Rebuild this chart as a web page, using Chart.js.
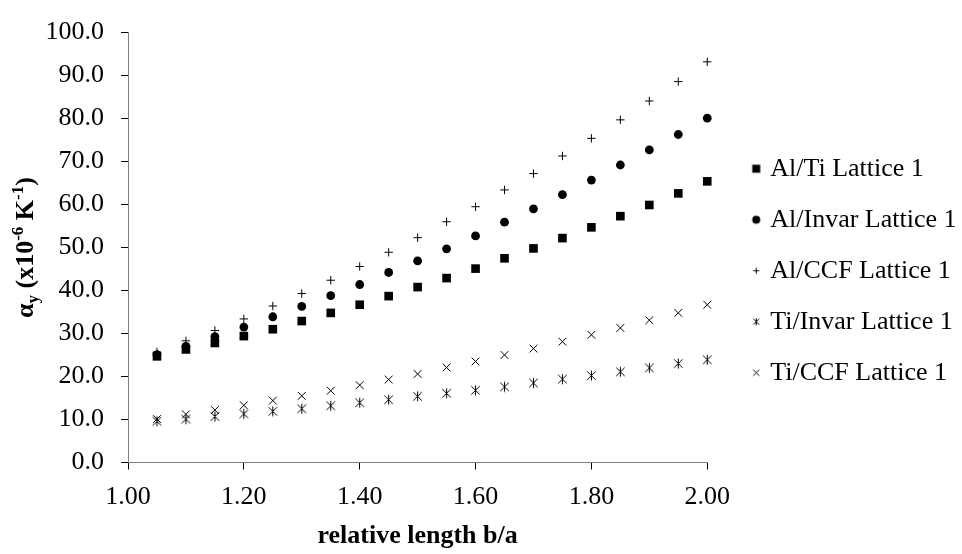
<!DOCTYPE html>
<html lang="en">
<head>
<meta charset="UTF-8">
<title>Lattice CTE vs relative length</title>
<script src="https://cdn.jsdelivr.net/npm/chart.js"></script>
<style>
  html, body { margin: 0; padding: 0; background: #fff; }
  #wrap { width: 962px; height: 554px; }
</style>
</head>
<body>
<div id="wrap"><canvas id="chart" width="962" height="554"></canvas></div>
<script>
// relative length b/a
const ratios = [1.05, 1.10, 1.15, 1.20, 1.25, 1.30, 1.35, 1.40, 1.45, 1.50,
                1.55, 1.60, 1.65, 1.70, 1.75, 1.80, 1.85, 1.90, 1.95, 2.00];

// alpha_y (x10^-6 K^-1)
const alTi    = [24.7, 26.3, 27.8, 29.4, 31.0, 32.9, 34.8, 36.7, 38.7, 40.8,
                 42.9, 45.1, 47.5, 49.8, 52.2, 54.7, 57.3, 59.9, 62.6, 65.4];
const alInvar = [25.1, 27.0, 29.3, 31.5, 33.9, 36.3, 38.8, 41.4, 44.2, 46.9,
                 49.7, 52.7, 55.9, 59.0, 62.3, 65.7, 69.2, 72.7, 76.3, 80.1];
const alCCF   = [25.7, 28.3, 30.7, 33.4, 36.4, 39.3, 42.4, 45.6, 48.9, 52.3,
                 56.0, 59.5, 63.4, 67.2, 71.3, 75.4, 79.7, 84.1, 88.6, 93.2];
const tiInvar = [9.6, 10.1, 10.7, 11.3, 11.9, 12.5, 13.2, 13.9, 14.6, 15.4,
                 16.1, 16.8, 17.6, 18.5, 19.4, 20.2, 21.1, 22.0, 23.0, 23.9];
const tiCCF   = [10.1, 11.2, 12.2, 13.3, 14.4, 15.5, 16.7, 18.0, 19.3, 20.6,
                 22.1, 23.5, 25.0, 26.5, 28.1, 29.7, 31.3, 33.1, 34.8, 36.7];

const seriesNames = ['Al/Ti Lattice 1', 'Al/Invar Lattice 1', 'Al/CCF Lattice 1',
                     'Ti/Invar Lattice 1', 'Ti/CCF Lattice 1'];
const xTitle = 'relative length b/a';
// y title pieces: text + 0 normal / 1 subscript / -1 superscript
const yTitleParts = [['α', 0], ['y', 1], [' (x10', 0], ['-6', -1], [' K', 0], ['-1', -1], [')', 0]];

const FONT = '"Liberation Serif", "Times New Roman", serif';
Chart.defaults.font.family = FONT;
Chart.defaults.font.size = 26;
Chart.defaults.color = '#000';

// little marker images
function makeIcon(kind, s) {
  const c = document.createElement('canvas');
  const n = 2 * Math.ceil(s / 2) + 3;
  c.width = c.height = n;
  const g = c.getContext('2d');
  const m = n / 2, h = s / 2;
  g.fillStyle = g.strokeStyle = '#000';
  g.lineWidth = 1;
  g.beginPath();
  if (kind === 'rect') {
    g.fillRect(m - h, m - h, s, s);
  } else if (kind === 'circle') {
    g.arc(m, m, h, 0, Math.PI * 2);
    g.fill();
  } else {
    if (kind === 'plus' || kind === 'star') { g.moveTo(m, m - h); g.lineTo(m, m + h); }
    if (kind === 'plus') { g.moveTo(m - h, m); g.lineTo(m + h, m); }
    if (kind === 'x' || kind === 'star') {
      const d = kind === 'star' ? h * 0.85 : h;
      g.moveTo(m - d, m - d); g.lineTo(m + d, m + d);
      g.moveTo(m + d, m - d); g.lineTo(m - d, m + d);
    }
    g.stroke();
  }
  return c;
}

const starMarker = makeIcon('star', 10);
const legendIcons = [makeIcon('rect', 8), makeIcon('circle', 8), makeIcon('plus', 6),
                     makeIcon('star', 7), makeIcon('x', 6)];

function pts(ys) { return ratios.map((x, i) => ({ x: x, y: ys[i] })); }

const LEGEND_DX = 23, LEGEND_DY = -15;

const extras = {
  id: 'extras',
  afterLayout(chart) {
    const lg = chart.legend;
    lg.left += LEGEND_DX; lg.right += LEGEND_DX;
    lg.top += LEGEND_DY; lg.bottom += LEGEND_DY;
  },
  afterDraw(chart) {
    const ctx = chart.ctx;
    const area = chart.chartArea;
    const big = 'bold 26px ' + FONT, small = 'bold 17px ' + FONT;
    ctx.save();
    let total = 0;
    yTitleParts.forEach(p => { ctx.font = p[1] ? small : big; total += ctx.measureText(p[0]).width; });
    ctx.translate(33, (area.top + area.bottom) / 2);
    ctx.rotate(-Math.PI / 2);
    ctx.fillStyle = '#000';
    ctx.textBaseline = 'alphabetic';
    let x = -total / 2;
    yTitleParts.forEach(p => {
      ctx.font = p[1] ? small : big;
      const dy = p[1] === 1 ? 5 : (p[1] === -1 ? -10 : 0);
      ctx.fillText(p[0], x, dy);
      x += ctx.measureText(p[0]).width;
    });
    ctx.restore();
  }
};

const common = { backgroundColor: '#000', borderColor: '#000', clip: false };

new Chart(document.getElementById('chart'), {
  type: 'scatter',
  data: {
    datasets: [
      Object.assign({ label: seriesNames[0], data: pts(alTi), pointStyle: 'rect',
                      pointRadius: 6.1, borderWidth: 0 }, common),
      Object.assign({ label: seriesNames[1], data: pts(alInvar), pointStyle: 'circle',
                      pointRadius: 4.4, borderWidth: 0 }, common),
      Object.assign({ label: seriesNames[2], data: pts(alCCF), pointStyle: 'cross',
                      pointRadius: 4.2, borderWidth: 1 }, common),
      Object.assign({ label: seriesNames[3], data: pts(tiInvar), pointStyle: starMarker,
                      pointRadius: 5, borderWidth: 1 }, common),
      Object.assign({ label: seriesNames[4], data: pts(tiCCF), pointStyle: 'crossRot',
                      pointRadius: 5.5, borderWidth: 1 }, common)
    ]
  },
  options: {
    responsive: false,
    animation: false,
    devicePixelRatio: 1,
    layout: { padding: { top: 17.5, right: 19, bottom: 0, left: 0 } },
    scales: {
      x: {
        type: 'linear',
        min: 1, max: 2,
        afterFit: s => { s.height = 91.5; },
        ticks: { stepSize: 0.2, padding: 12, maxRotation: 0, color: '#000',
                 font: { size: 26 }, callback: v => v.toFixed(2) },
        grid: { drawOnChartArea: false, drawTicks: true, tickLength: 7, color: '#000' },
        border: { color: '#808080', width: 1 },
        title: { display: true, text: xTitle, color: '#000',
                 font: { size: 26, weight: 'bold' }, padding: { top: 0, bottom: 2.4 } }
      },
      y: {
        min: 0, max: 100,
        afterFit: s => { s.width = 128; },
        ticks: { stepSize: 10, padding: 17, color: '#000',
                 font: { size: 26 }, callback: v => v.toFixed(1) },
        grid: { drawOnChartArea: false, drawTicks: true, tickLength: 7, color: '#000' },
        border: { color: '#808080', width: 1 }
      }
    },
    plugins: {
      tooltip: { enabled: false },
      legend: {
        position: 'right',
        labels: {
          usePointStyle: true,
          boxWidth: 2,
          boxHeight: 8,
          padding: 25,
          color: '#000',
          font: { size: 26 },
          generateLabels: chart => Chart.defaults.plugins.legend.labels.generateLabels(chart)
            .map((item, i) => Object.assign(item, { pointStyle: legendIcons[i] }))
        }
      }
    }
  },
  plugins: [extras]
});
</script>
</body>
</html>
